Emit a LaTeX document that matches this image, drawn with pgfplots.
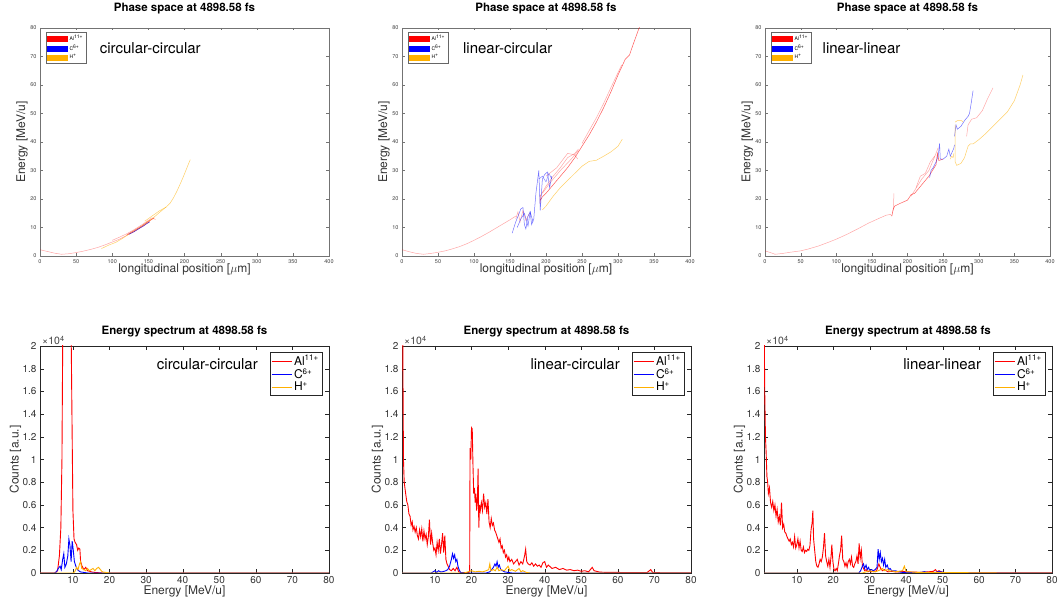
\documentclass[border=0pt]{standalone}
\usepackage{fontspec}
\setmainfont{TeX Gyre Heros}
\usepackage{pgfplots}
\pgfplotsset{compat=1.18}
\definecolor{mred}{rgb}{1,0,0}
\definecolor{mblue}{rgb}{0,0,1}
\definecolor{morange}{rgb}{1,0.69,0}
\pgfplotsset{
 base/.style={scale only axis, anchor=south west, clip mode=individual, tick align=inside,
   /pgf/number format/assume math mode=true},
 phase/.style={base, width=#1, height=228pt, xmin=0,xmax=400,ymin=0,ymax=80,
   xtick={0,50,...,400}, ytick={0,10,...,80}, major tick length=2.5pt,
   axis line style={black!55}, tick style={black!55},
   tick label style={font=\fontsize{5.5}{6}\selectfont, text=black!75},
   title={Phase space at 4898.58 fs},
   title style={font=\bfseries\fontsize{11.5}{12}\selectfont, at={(axis description cs:0.5,1.0439)}, anchor=base},
   xlabel={longitudinal position [$\mu$m]},
   xlabel style={font=\fontsize{12}{12}\selectfont, text=black!80, at={(axis description cs:0.5,-0.0746)}, anchor=base},
   ylabel={Energy [MeV/u]},
   ylabel style={font=\fontsize{12}{12}\selectfont, text=black!80, at={(axis description cs:-0.0623,0.5)}, anchor=center},
   legend style={at={(axis description cs:0,1)}, anchor=north west, xshift=6pt, yshift=-4pt,
     font=\fontsize{5}{5}\selectfont, draw=black!60, inner sep=1pt, row sep=-1.5pt, legend cell align=left}},
 spec/.style={base, width=#1, height=227pt, xmin=1,xmax=80,ymin=0,ymax=2,
   xtick={10,20,...,80}, ytick={0,0.2,0.4,0.6,0.8,1,1.2,1.4,1.6,1.8,2}, major tick length=4pt,
   axis line style={black!85}, tick style={black!85},
   tick label style={font=\fontsize{10}{10}\selectfont, text=black!80},
   title={Energy spectrum at 4898.58 fs},
   title style={font=\bfseries\fontsize{11.5}{12}\selectfont, at={(axis description cs:0.5,1.022)}, anchor=base},
   xlabel={Energy [MeV/u]},
   xlabel style={font=\fontsize{12}{12}\selectfont, text=black!80, at={(axis description cs:0.5,-0.0969)}, anchor=base},
   ylabel={Counts [a.u.]},
   ylabel style={font=\fontsize{12}{12}\selectfont, text=black!80, at={(axis description cs:-0.085,0.5)}, anchor=center},
   legend style={at={(axis description cs:1,1)}, anchor=north east, xshift=-7pt, yshift=-6pt,
     font=\fontsize{12}{12}\selectfont, draw=black!85, inner sep=1pt, row sep=-2pt, legend cell align=left}},
 faint/.style={line width=0.5pt, opacity=0.35, forget plot},
 mid/.style={line width=0.5pt, opacity=0.65, forget plot},
 sp/.style={line width=0.9pt, forget plot},
}
\newcommand{\speclegend}{%
\addlegendimage{legend image code/.code={\draw[mred, line width=0.9pt] (0pt,0pt) -- (20pt,0pt);}}\addlegendentry{Al\textsuperscript{11+}}
\addlegendimage{legend image code/.code={\draw[mblue, line width=0.9pt] (0pt,0pt) -- (20pt,0pt);}}\addlegendentry{C\textsuperscript{6+}}
\addlegendimage{legend image code/.code={\draw[morange, line width=0.9pt] (0pt,0pt) -- (20pt,0pt);}}\addlegendentry{H\textsuperscript{+}}}
\newcommand{\phaselegend}{%
\addlegendimage{legend image code/.code={\fill[mred] (0pt,-2.5pt) rectangle (20pt,2.5pt);}}\addlegendentry{Al\textsuperscript{11+}}
\addlegendimage{legend image code/.code={\fill[mblue] (0pt,-2.5pt) rectangle (20pt,2.5pt);}}\addlegendentry{C\textsuperscript{6+}}
\addlegendimage{legend image code/.code={\fill[morange] (0pt,-2.5pt) rectangle (20pt,2.5pt);}}\addlegendentry{H\textsuperscript{+}}}
\newcommand{\timesten}{\node[anchor=base west, font=\fontsize{10.5}{10.5}\selectfont, text=black!75, inner sep=0pt] at (rel axis cs:0,1) [xshift=2pt, yshift=1pt] {×10\textsuperscript{4}};}
\begin{document}
\begin{tikzpicture}
\path[use as bounding box] (0pt,0pt) rectangle (1058pt,601pt);

% ---------------- Top left: circular-circular ----------------
\begin{axis}[phase=289pt, at={(40pt,345pt)}]
\phaselegend
\addplot[mred, faint] coordinates {(0,2.2) (10,1.6) (20,1.0) (30,0.6) (40,0.8) (50,1.2) (60,1.7) (70,2.3) (80,3.0) (90,3.9) (100,4.9) (110,5.9) (120,7.2) (130,8.6) (140,10.2) (150,11.9) (158,13.5)};
\addplot[mred, faint] coordinates {(100,5.5) (110,6.6) (120,7.8) (130,9.2) (140,10.8) (150,12.5) (155,13.4) (160,12.8)};
\addplot[mred, mid] coordinates {(120,7.4) (130,8.9) (140,10.4) (150,12.2) (157,13.2)};
\addplot[morange, faint, opacity=0.6] coordinates {(85,2.6) (95,3.8) (105,4.8) (115,6.3) (125,8) (135,9.5) (145,11.2) (155,13) (165,15.2) (175,17.3) (180,18.5) (185,20.5) (190,23) (195,25.8) (200,28.8) (205,32) (208,33.8)};
\addplot[morange, faint, opacity=0.6] coordinates {(145,12.2) (155,14) (165,15.8) (175,17.2)};
\addplot[mblue!70!mred, line width=0.6pt, opacity=0.85, forget plot] coordinates {(123,7.6) (130,8.5) (137,9.6) (143,10.5) (148,11.4) (152,12.0)};
\node[anchor=base west, font=\fontsize{15}{15}\selectfont] at (axis cs:78,71) {circular-circular};
\end{axis}

% ---------------- Top middle: linear-circular ----------------
\begin{axis}[phase=288pt, at={(402pt,345pt)}]
\phaselegend
\addplot[mred, faint] coordinates {(0,2.2) (10,1.5) (20,0.9) (30,0.6) (40,0.9) (50,1.3) (60,1.8) (70,2.5) (80,3.3) (90,4.3) (100,5.5) (110,6.8) (120,8.2) (130,9.7) (140,11.2) (150,12.7) (158,14)};
\addplot[mred, faint] coordinates {(158,13) (161,15.5) (164,12) (168,16) (172,12.5) (177,15)};
\addplot[mred, mid] coordinates {(192,18.5) (192,21.5) (192,19.5) (195,20.8) (200,22) (210,25) (220,28) (230,31) (240,34.5) (245,36.5) (250,38.5) (260,42.5) (270,47) (280,52) (290,57.5) (300,63.5) (310,69) (316,70.5) (320,73.5) (325,77) (330,80.5)};
\addplot[mred, faint] coordinates {(192,21) (200,24.5) (210,28) (220,31) (230,34.5) (240,36) (245,37.5)};
\addplot[mred, faint] coordinates {(200,28) (215,31) (230,36) (240,35.5) (244,34)};
\addplot[mred, faint] coordinates {(195,22) (205,25.5) (220,30) (235,34) (245,37)};
\addplot[mred, faint] coordinates {(250,39.5) (260,44) (270,48.5) (280,53.5) (290,59) (305,67)};
\addplot[mblue, faint, opacity=0.55] coordinates {(153,8) (158,12) (162,14.5) (165,16.5) (168,17) (170,11) (172,9.5) (175,14) (178,15.5) (180,11) (183,13) (186,22) (190,30) (192,16) (195,27) (198,28.5) (202,29.5) (205,24) (208,28)};
\addplot[mblue, faint, opacity=0.55] coordinates {(160,10) (165,13) (170,15) (175,10.5) (178,15.5) (182,12)};
\addplot[mblue, faint, opacity=0.45] coordinates {(190,27) (195,28) (200,26) (204,29) (208,27)};
\addplot[morange, faint, opacity=0.6] coordinates {(195,16.2) (200,17.5) (210,21) (220,24) (230,26.5) (240,29) (250,31.5) (260,33.2) (270,33.6) (280,35) (290,36.5) (300,38.5) (306,41)};
\node[anchor=base west, font=\fontsize{15}{15}\selectfont] at (axis cs:80,71) {linear-circular};
\end{axis}

% ---------------- Top right: linear-linear ----------------
\begin{axis}[phase=285pt, at={(765pt,345pt)}]
\phaselegend
\addplot[mred, faint] coordinates {(0,1.8) (10,1.0) (14,0.6) (25,0.9) (35,1.3) (50,1.8) (60,2.4) (75,3.5) (90,4.9) (100,5.9) (115,7.6) (130,9.5) (145,11.5) (160,13.2) (170,14.3) (176,14.6) (178,14)};
\addplot[mred, mid] coordinates {(178,14) (180,16.5) (182,17.5) (190,18.5) (200,19.6) (205,21.5) (210,22) (215,23.5) (220,25) (225,26.5) (230,28) (235,30) (240,32) (242,36) (244,33.5) (250,34)};
\addplot[mred, faint] coordinates {(180,16) (181,22)};
\addplot[mred, faint] coordinates {(205,21) (210,23) (220,27) (230,30) (240,36) (243,38)};
\addplot[mred, faint] coordinates {(212,24) (218,28) (225,29) (232,33) (238,35)};
\addplot[mred, faint] coordinates {(283,42) (285,46) (290,48) (297,48.5) (305,51) (312,55) (320,59)};
\addplot[mblue, faint, opacity=0.55] coordinates {(231,27.5) (233,30) (236,31) (240,33) (243,35) (245,39.5) (246,34) (250,34) (255,35) (258,37.5) (260,35) (265,37.8) (266,39)};
\addplot[mblue, faint, opacity=0.55] coordinates {(266,42) (268,46) (270,44.5) (275,45.5) (280,47.5) (285,49) (287,50) (289,53) (292,58)};
\addplot[morange, faint, opacity=0.6] coordinates {(260,34) (262,35) (264,34.5) (265,36)};
\addplot[morange, faint, opacity=0.6] coordinates {(267,47) (270,47.5) (276,47.5) (278,47)};
\addplot[morange, faint, opacity=0.6] coordinates {(267,46) (267,33) (269,31.8) (275,32.5) (280,34.5) (285,38.5) (288,39.3) (292,39.3) (300,40.8) (310,43) (320,45.5) (330,48) (340,50.5) (350,54.5) (358,60) (362,63.5)};
\node[anchor=base west, font=\fontsize{15}{15}\selectfont] at (axis cs:76,71) {linear-linear};
\end{axis}

% ---------------- Bottom left: circular-circular ----------------
\begin{axis}[spec=289pt, at={(40pt,28pt)}]
\speclegend
\addplot[mred, sp] coordinates {(1,0) (5,0) (5.8,0.02) (6.3,0.15) (6.7,0.4) (7.0,1.0) (7.3,2.5) (7.6,4) (8.5,4) (9.4,2.5) (9.7,1.5) (10,0.55) (10.3,0.3) (10.6,0.27) (11,0.25) (11.3,0.2) (11.6,0.22) (11.9,0.21) (12.1,0.1) (12.5,0.06) (13,0.03) (13.5,0.05) (14,0.02) (15,0.01) (16,0.005) (18,0) (80,0)};
\addplot[mblue, sp] coordinates {(1,0) (5,0) (5.5,0.01) (6,0.04) (6.5,0.06) (6.8,0.03) (7.2,0.12) (7.5,0.17) (7.8,0.05) (8.2,0.08) (8.6,0.15) (8.9,0.3) (9.2,0.24) (9.5,0.1) (9.8,0.28) (10.1,0.2) (10.4,0.1) (10.8,0.06) (11.2,0.03) (11.6,0.02) (12,0.01) (13,0.005) (14,0) (80,0)};
\addplot[morange, sp] coordinates {(1,0) (10,0) (10.5,0.01) (11,0.05) (11.4,0.03) (11.8,0.08) (12.1,0.1) (12.4,0.04) (13,0.03) (13.5,0.02) (14,0.04) (14.5,0.02) (15,0.03) (15.5,0.04) (16,0.02) (16.5,0.04) (17,0.05) (17.5,0.03) (18,0.01) (19,0.005) (20,0) (80,0)};
\node[anchor=base east, font=\fontsize{15}{15}\selectfont] at (axis cs:61.5,1.789) {circular-circular};
\timesten
\end{axis}

% ---------------- Bottom middle: linear-circular ----------------
\begin{axis}[spec=289pt, at={(402pt,28pt)}]
\speclegend
\addplot[mred, sp] coordinates {(1,2.6) (1.2,2.1) (1.4,1.0) (1.6,0.8) (1.8,0.75) (2.0,0.7) (2.3,0.63) (2.6,0.6) (2.9,0.52) (3.2,0.5) (3.5,0.42) (3.8,0.45) (4.0,0.38) (4.3,0.41) (4.6,0.36) (4.9,0.4) (5.2,0.33) (5.5,0.3) (5.8,0.38) (6.1,0.32) (6.4,0.39) (6.7,0.28) (7.0,0.37) (7.3,0.3) (7.6,0.34) (7.9,0.25) (8.2,0.32) (8.5,0.47) (8.8,0.25) (9.1,0.35) (9.4,0.26) (9.7,0.2) (10.0,0.22) (10.3,0.16) (10.6,0.27) (10.9,0.2) (11.2,0.3) (11.5,0.17) (11.8,0.25) (12.1,0.35) (12.4,0.18) (12.7,0.33) (13.0,0.12) (13.3,0.08) (13.6,0.06) (14.0,0.03) (14.5,0.02) (15,0.04) (15.5,0.02) (16,0.05) (16.5,0.01) (17,0.005) (18,0.003) (19,0.003) (19.5,0.01) (19.6,1.1) (19.8,1.0) (20.0,1.28) (20.2,1.27) (20.4,0.95) (20.6,0.7) (20.8,0.75) (21.0,0.62) (21.2,0.7) (21.4,0.55) (21.6,0.62) (21.8,0.92) (22.0,0.4) (22.2,0.6) (22.4,0.55) (22.7,0.62) (23.0,0.55) (23.3,0.7) (23.6,0.58) (23.9,0.62) (24.2,0.52) (24.5,0.65) (24.8,0.45) (25.1,0.4) (25.4,0.48) (25.7,0.42) (26.0,0.44) (26.3,0.38) (26.6,0.36) (26.9,0.33) (27.2,0.3) (27.5,0.27) (27.8,0.3) (28.1,0.22) (28.4,0.24) (28.7,0.18) (29.0,0.2) (29.3,0.14) (29.6,0.16) (29.9,0.11) (30.2,0.14) (30.5,0.1) (31,0.12) (31.5,0.08) (32,0.1) (32.5,0.12) (33,0.07) (33.5,0.1) (34,0.08) (34.5,0.15) (34.8,0.21) (35.1,0.1) (35.5,0.08) (36,0.07) (36.5,0.09) (37,0.06) (37.5,0.08) (38,0.06) (38.5,0.07) (39,0.05) (39.5,0.09) (40,0.1) (40.5,0.05) (41,0.07) (42,0.04) (43,0.05) (44,0.03) (45,0.04) (46,0.025) (47,0.03) (48,0.02) (49,0.025) (50,0.015) (51,0.02) (52,0.01) (53,0.05) (53.5,0.02) (55,0.008) (57,0.005) (60,0.005) (65,0.003) (68,0.004) (69,0.03) (69.5,0.005) (72,0.002) (80,0.002)};
\addplot[mblue, sp] coordinates {(1,0) (9,0) (9.5,0.01) (10,0.02) (10.5,0.005) (11,0.02) (11.5,0.01) (12,0.01) (13,0.02) (13.5,0.03) (14,0.06) (14.5,0.12) (14.8,0.17) (15.1,0.13) (15.4,0.16) (15.7,0.1) (16,0.12) (16.3,0.06) (16.6,0.03) (17,0.005) (18,0) (24,0) (25,0.01) (25.5,0.03) (26,0.05) (26.4,0.08) (26.7,0.06) (27,0.1) (27.3,0.05) (27.6,0.07) (28,0.03) (28.5,0.02) (29,0.01) (30,0.005) (31,0) (80,0)};
\addplot[morange, sp] coordinates {(1,0) (18,0) (19,0.01) (20,0.02) (21,0.01) (22,0.015) (23,0.01) (24,0.02) (24.7,0.03) (25,0.08) (25.3,0.02) (26,0.03) (26.5,0.02) (27,0.05) (27.5,0.02) (28,0.03) (29,0.02) (29.5,0.04) (30,0.06) (30.5,0.02) (31,0.03) (32,0.015) (33,0.04) (33.5,0.01) (34,0.02) (35,0.005) (36,0) (80,0)};
\node[anchor=base east, font=\fontsize{15}{15}\selectfont] at (axis cs:61.5,1.789) {linear-circular};
\timesten
\end{axis}

% ---------------- Bottom right: linear-linear ----------------
\begin{axis}[spec=288pt, at={(764pt,28pt)}]
\speclegend
\addplot[mred, sp] coordinates {(1,2.4) (1.2,1.6) (1.4,1.2) (1.6,1.05) (1.8,0.85) (2.0,0.8) (2.2,0.7) (2.5,0.75) (2.8,0.62) (3.1,0.58) (3.4,0.63) (3.7,0.55) (4.0,0.6) (4.3,0.5) (4.6,0.56) (4.9,0.45) (5.2,0.5) (5.5,0.42) (5.8,0.62) (6.1,0.4) (6.4,0.43) (6.7,0.36) (7.0,0.35) (7.3,0.32) (7.6,0.3) (7.9,0.28) (8.2,0.3) (8.5,0.25) (8.8,0.27) (9.1,0.23) (9.4,0.32) (9.7,0.22) (10.0,0.25) (10.3,0.3) (10.6,0.22) (10.9,0.28) (11.2,0.2) (11.5,0.19) (11.8,0.23) (12.1,0.18) (12.4,0.2) (12.7,0.19) (13.0,0.21) (13.3,0.2) (13.6,0.24) (13.9,0.38) (14.2,0.44) (14.4,0.55) (14.6,0.3) (14.9,0.2) (15.2,0.1) (15.5,0.06) (15.8,0.05) (16.1,0.08) (16.4,0.12) (16.7,0.1) (17.0,0.14) (17.3,0.22) (17.6,0.35) (17.9,0.15) (18.2,0.1) (18.5,0.06) (18.8,0.12) (19.1,0.05) (19.4,0.15) (19.6,0.25) (19.9,0.1) (20.2,0.03) (20.5,0.02) (20.8,0.04) (21.1,0.02) (21.4,0.08) (21.7,0.15) (22.0,0.2) (22.3,0.33) (22.6,0.12) (22.9,0.1) (23.2,0.06) (23.5,0.09) (23.8,0.05) (24.1,0.1) (24.4,0.12) (24.7,0.08) (25.0,0.14) (25.3,0.06) (25.6,0.05) (25.9,0.08) (26.2,0.1) (26.5,0.15) (26.8,0.08) (27.1,0.26) (27.4,0.13) (27.7,0.2) (28.0,0.06) (28.3,0.04) (28.6,0.02) (29,0.03) (29.5,0.01) (30,0.02) (30.5,0.01) (31,0.02) (31.5,0.01) (32,0.03) (32.5,0.08) (33,0.04) (33.5,0.02) (34,0.03) (35,0.01) (36,0.015) (37,0.01) (38,0.01) (39,0.015) (40,0.01) (42,0.008) (44,0.006) (46,0.01) (47.5,0.015) (48,0.03) (48.5,0.01) (49,0.02) (50,0.005) (52,0.003) (55,0.002) (80,0.002)};
\addplot[mblue, sp] coordinates {(1,0) (27,0) (27.5,0.02) (28,0.06) (28.3,0.08) (28.6,0.04) (29,0.07) (29.3,0.03) (29.7,0.05) (30,0.02) (30.5,0.03) (31,0.02) (31.5,0.03) (32,0.05) (32.3,0.21) (32.6,0.12) (32.9,0.18) (33.2,0.1) (33.5,0.13) (33.8,0.07) (34.1,0.12) (34.4,0.05) (34.8,0.07) (35.2,0.03) (35.6,0.04) (36,0.02) (37,0.02) (38,0.01) (39,0.005) (40,0.005) (42,0.002) (44,0.005) (45,0.012) (46,0.004) (48,0.005) (49,0.012) (50,0.008) (51,0) (80,0)};
\addplot[morange, sp] coordinates {(1,0) (28,0) (29,0.01) (30,0.02) (31,0.01) (32,0.015) (33,0.03) (33.5,0.04) (34,0.02) (35,0.03) (35.5,0.015) (36,0.02) (37,0.01) (38,0.015) (39,0.02) (39.5,0.06) (40,0.01) (41,0.01) (43,0.005) (45,0.005) (50,0.003) (55,0.003) (60,0.002) (64,0.002) (65,0) (80,0)};
\node[anchor=base east, font=\fontsize{15}{15}\selectfont] at (axis cs:61.5,1.789) {linear-linear};
\timesten
\end{axis}
\end{tikzpicture}
\end{document}
